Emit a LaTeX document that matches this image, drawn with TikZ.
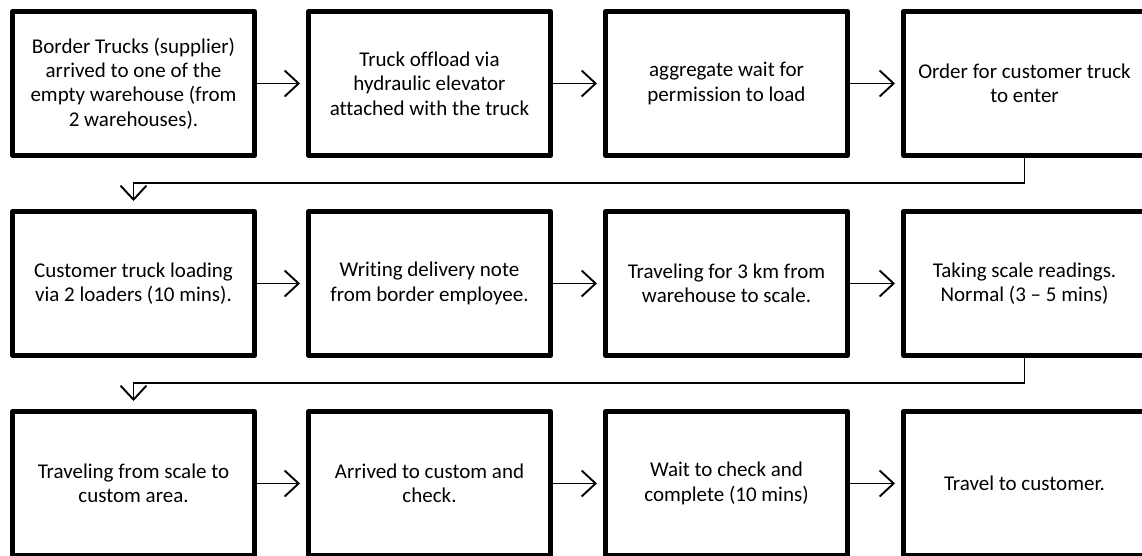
\documentclass[tikz,border=0pt]{standalone}
\usepackage{fontspec}
\setmainfont{Carlito}[Ligatures=NoCommon]
\usetikzlibrary{arrows.meta}
\begin{document}
\begin{tikzpicture}[x=1pt,y=-1pt,
  box/.style={draw=black, line width=5pt, line join=round, fill=white,
    minimum width=242pt, minimum height=144pt, inner sep=0pt, align=center,
    font=\fontsize{21}{24.4}\selectfont},
  conn/.style={line width=1.7pt, -{Straight Barb[length=14pt,width=26pt,line width=1.9pt]}},
  hconn/.style={conn, shorten >=6pt},
  vconn/.style={conn, shorten >=8pt}]
\useasboundingbox (0,0) rectangle (1142,556);
% row 1
\node[box] (b1) at (133.5,83.5) {Border Trucks (supplier)\\arrived to one of the\\empty warehouse (from\\2 warehouses).};
\node[box] (b2) at (429.5,83.5) {Truck offload via\\hydraulic elevator\\attached with the truck};
\node[box] (b3) at (726.5,83.5) {aggregate wait for\\permission to load};
\node[box] (b4) at (1024.5,83.5) {Order for customer truck\\to enter};
% row 2
\node[box] (b5) at (133.5,283.5) {Customer truck loading\\via 2 loaders (10 mins).};
\node[box] (b6) at (429.5,283.5) {Writing delivery note\\from border employee.};
\node[box] (b7) at (726.5,283.5) {Traveling for 3 km from\\warehouse to scale.};
\node[box] (b8) at (1024.5,283.5) {Taking scale readings.\\Normal (3 – 5 mins)};
% row 3
\node[box] (b9) at (133.5,483.5) {Traveling from scale to\\custom area.};
\node[box] (b10) at (429.5,483.5) {Arrived to custom and\\check.};
\node[box] (b11) at (726.5,483.5) {Wait to check and\\complete (10 mins)};
\node[box] (b12) at (1024.5,483.5) {Travel to customer.};
% turn coordinates
\coordinate (m1) at (0,183.3);
\coordinate (m2) at (0,383.3);
% connectors
\draw[hconn] (b1.east) -- (b2.west);
\draw[hconn] (b2.east) -- (b3.west);
\draw[hconn] (b3.east) -- (b4.west);
\draw[vconn] (b4.south) -- (b4.south |- m1) -| (b5.north);
\draw[hconn] (b5.east) -- (b6.west);
\draw[hconn] (b6.east) -- (b7.west);
\draw[hconn] (b7.east) -- (b8.west);
\draw[vconn] (b8.south) -- (b8.south |- m2) -| (b9.north);
\draw[hconn] (b9.east) -- (b10.west);
\draw[hconn] (b10.east) -- (b11.west);
\draw[hconn] (b11.east) -- (b12.west);
\end{tikzpicture}
\end{document}
